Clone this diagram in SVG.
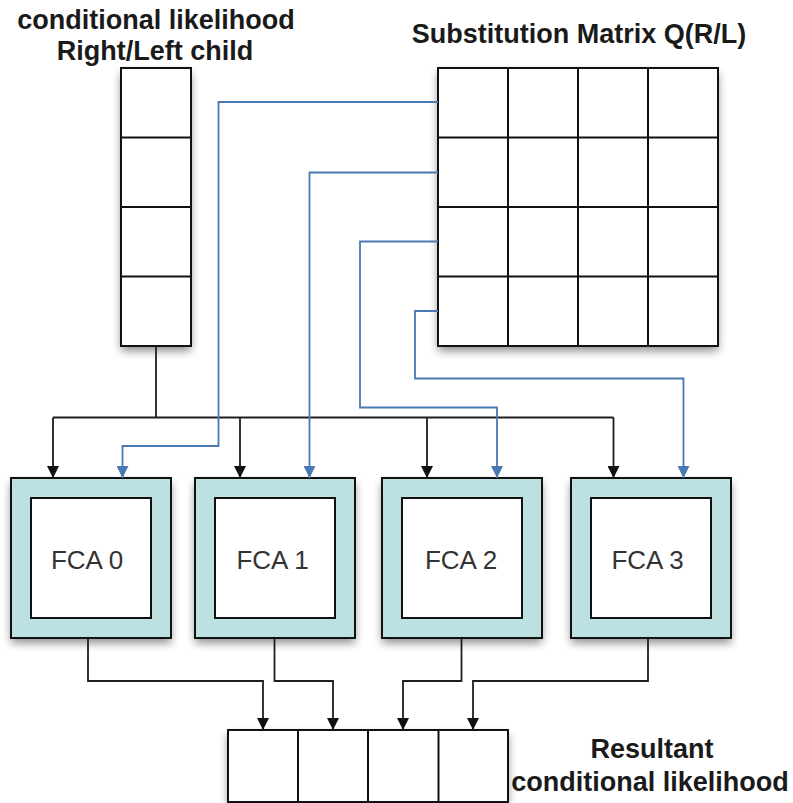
<svg xmlns="http://www.w3.org/2000/svg" width="793" height="803" viewBox="0 0 793 803">
  <style>
    .title { font-family: "Liberation Sans", Arial, sans-serif; font-weight: bold; font-size: 27px; fill: #1a1a1a; text-anchor: middle; }
    .label { font-family: "Liberation Sans", Arial, sans-serif; font-size: 26px; fill: #333; text-anchor: middle; }
    .cell { fill: #fff; stroke: #111; stroke-width: 2; }
    .grid { fill: none; stroke: #111; stroke-width: 2; }
    .fca-outer { fill: #bde0e2; stroke: #111; stroke-width: 2; }
    .fca-inner { fill: #fff; stroke: #111; stroke-width: 2; }
    .wire { fill: none; stroke: #1e1e1e; stroke-width: 1.8; }
    .wire-q { fill: none; stroke: #4a78b0; stroke-width: 1.8; }
    .shade { fill: #000; opacity: 0.45; filter: url(#blur); }
  </style>
  <defs>
    <filter id="blur" x="-30%" y="-30%" width="160%" height="160%">
      <feGaussianBlur stdDeviation="5"/>
    </filter>
    <marker id="arrow-black" viewBox="0 0 12 12" refX="12" refY="6" markerWidth="12" markerHeight="12" markerUnits="userSpaceOnUse" orient="auto">
      <path d="M0,0 L12,6 L0,12 Z" fill="#111"/>
    </marker>
    <marker id="arrow-blue" viewBox="0 0 12 12" refX="12" refY="6" markerWidth="12" markerHeight="12" markerUnits="userSpaceOnUse" orient="auto">
      <path d="M0,0 L12,6 L0,12 Z" fill="#4a78b0"/>
    </marker>
  </defs>

  <rect width="793" height="803" fill="#fff"/>

  <!-- Soft shadows beneath the boxes -->
  <g id="shadows">
    <rect class="shade" x="121" y="73" width="70" height="278"/>
    <rect class="shade" x="438" y="73" width="280" height="278"/>
    <rect class="shade" x="11" y="483" width="160" height="160"/>
    <rect class="shade" x="195" y="483" width="160" height="160"/>
    <rect class="shade" x="382" y="483" width="160" height="160"/>
    <rect class="shade" x="571" y="483" width="160" height="160"/>
    <rect class="shade" x="228" y="735" width="280" height="72"/>
  </g>

  <!-- Titles -->
  <text class="title" x="156" y="29">conditional likelihood</text>
  <text class="title" x="155" y="60">Right/Left child</text>
  <text class="title" x="579" y="43">Substitution Matrix Q(R/L)</text>
  <text class="title" x="652" y="758" font-size="26.5">Resultant</text>
  <text class="title" x="650" y="791" font-size="26.5">conditional likelihood</text>

  <!-- Child conditional likelihood vector -->
  <g id="child-vector">
    <rect class="cell" x="121" y="68" width="70" height="278"/>
    <path class="grid" d="M121,137.5 H191 M121,207 H191 M121,276.5 H191"/>
  </g>

  <!-- Substitution matrix -->
  <g id="q-matrix">
    <rect class="cell" x="438" y="68" width="280" height="278"/>
    <path class="grid" d="M508,68 V346 M578,68 V346 M648,68 V346 M438,137.5 H718 M438,207 H718 M438,276.5 H718"/>
  </g>

  <!-- FCA units -->
  <g id="fca0">
    <rect class="fca-outer" x="11" y="478" width="160" height="160"/>
    <rect class="fca-inner" x="31" y="498" width="120" height="120"/>
    <text class="label" x="87" y="569">FCA 0</text>
  </g>
  <g id="fca1">
    <rect class="fca-outer" x="195" y="478" width="160" height="160"/>
    <rect class="fca-inner" x="215" y="498" width="120" height="120"/>
    <text class="label" x="272.5" y="569">FCA 1</text>
  </g>
  <g id="fca2">
    <rect class="fca-outer" x="382" y="478" width="160" height="160"/>
    <rect class="fca-inner" x="402" y="498" width="120" height="120"/>
    <text class="label" x="461" y="569">FCA 2</text>
  </g>
  <g id="fca3">
    <rect class="fca-outer" x="571" y="478" width="160" height="160"/>
    <rect class="fca-inner" x="591" y="498" width="120" height="120"/>
    <text class="label" x="647.5" y="569">FCA 3</text>
  </g>

  <!-- Resultant conditional likelihood vector -->
  <g id="result-vector">
    <rect class="cell" x="228" y="730" width="280" height="72"/>
    <path class="grid" d="M298,730 V802 M368,730 V802 M438.5,730 V802"/>
  </g>

  <!-- Connectors -->
  <g id="connectors">
    <!-- child vector fan-out -->
    <path class="wire" d="M156,346 V417.5 M53,417.5 H613.5"/>
    <path class="wire" d="M53,417.5 V478" marker-end="url(#arrow-black)"/>
    <path class="wire" d="M240,417.5 V478" marker-end="url(#arrow-black)"/>
    <path class="wire" d="M427,417.5 V478" marker-end="url(#arrow-black)"/>
    <path class="wire" d="M613.5,417.5 V478" marker-end="url(#arrow-black)"/>

    <!-- matrix rows to FCAs -->
    <path class="wire-q" d="M438,102 H218.5 V446 H122.5 V478" marker-end="url(#arrow-blue)"/>
    <path class="wire-q" d="M438,172.5 H309.5 V478" marker-end="url(#arrow-blue)"/>
    <path class="wire-q" d="M438,241.5 H360 V407.5 H497 V478" marker-end="url(#arrow-blue)"/>
    <path class="wire-q" d="M438,311 H415 V378.5 H683.5 V478" marker-end="url(#arrow-blue)"/>

    <!-- FCA outputs to result -->
    <path class="wire" d="M88,638 V681 H263 V730" marker-end="url(#arrow-black)"/>
    <path class="wire" d="M274.5,638 V681 H333 V730" marker-end="url(#arrow-black)"/>
    <path class="wire" d="M461.5,638 V681 H403 V730" marker-end="url(#arrow-black)"/>
    <path class="wire" d="M648,638 V681 H473 V730" marker-end="url(#arrow-black)"/>
  </g>
</svg>
